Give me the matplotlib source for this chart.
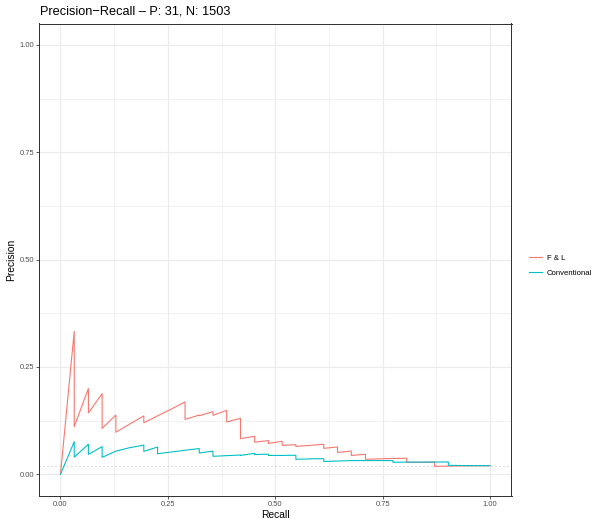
import matplotlib
matplotlib.use("Agg")
import matplotlib.pyplot as plt
import numpy as np

plt.rcParams['font.family'] = ['Liberation Sans', 'DejaVu Sans']

# PR curve vertices
fl_recall = [0, .032, .032, .065, .065, .097, .097, .129, .129, .161, .194, .194,
             .226, .258, .290, .290, .323, .323, .355, .355, .387, .387, .419, .419,
             .452, .452, .484, .484, .516, .516, .548, .548, .581, .613, .613, .645,
             .645, .677, .677, .710, .710, .742, .774, .806, .806, .839, .871, .871,
             .903, .935, .968, 1.0]
fl_prec = [0, .333, .111, .200, .143, .188, .107, .138, .098, .117, .136, .120,
           .136, .152, .1685, .128, .138, .1365, .146, .1375, .149, .122, .1305, .083,
           .0886, .075, .0785, .072, .077, .0676, .069, .065, .0675, .070, .0606, .0637,
           .051, .0543, .044, .0466, .035, .036, .037, .0375, .028, .028, .0285, .0186,
           .0192, .0196, .0199, .0202]

conv_recall = [0, .032, .032, .065, .065, .097, .097, .129, .161, .194, .194, .226,
               .226, .258, .290, .323, .323, .355, .355, .387, .419, .419, .452, .452,
               .484, .484, .516, .548, .548, .581, .613, .613, .645, .677, .710, .742,
               .774, .774, .806, .839, .871, .903, .903, .935, .968, 1.0]
conv_prec = [0, .076, .040, .070, .0466, .0645, .0396, .054, .062, .068, .0536, .0636,
             .048, .052, .056, .060, .0497, .054, .042, .0435, .045, .044, .049, .046,
             .047, .044, .044, .0445, .035, .036, .0365, .030, .031, .032, .032, .032,
             .032, .028, .0285, .0285, .0286, .0287, .021, .0205, .0203, .0202]

series_names = ['F & L', 'Conventional']
series_colors = ['#F8766D', '#00BFC4']
n_pos, n_neg = 31, 1503
baseline = n_pos / (n_pos + n_neg)

fig = plt.figure(figsize=(595 / 72, 520 / 72), dpi=72)
ax = fig.add_axes([39 / 595, 1 - 495.8 / 520, 472.5 / 595, 472.3 / 520])

ax.axhline(baseline, color='#BEBEBE', lw=1.0, ls=(0, (1, 3)), zorder=2)
ax.plot(fl_recall, fl_prec, color=series_colors[0], lw=1.1, label=series_names[0], zorder=3)
ax.plot(conv_recall, conv_prec, color=series_colors[1], lw=1.1, label=series_names[1], zorder=3)

ax.set_xlim(-0.05, 1.05)
ax.set_ylim(-0.05, 1.05)
ticks = [0, 0.25, 0.5, 0.75, 1.0]
ax.set_xticks(ticks)
ax.set_yticks(ticks)
ax.set_xticklabels(['0.00', '0.25', '0.50', '0.75', '1.00'])
ax.set_yticklabels(['0.00', '0.25', '0.50', '0.75', '1.00'])
ax.set_xticks([0.125, 0.375, 0.625, 0.875], minor=True)
ax.set_yticks([0.125, 0.375, 0.625, 0.875], minor=True)
ax.grid(True, which='major', color='#EBEBEB', lw=1.1, zorder=0)
ax.grid(True, which='minor', color='#EBEBEB', lw=0.6, zorder=0)
ax.set_axisbelow(True)
ax.tick_params(which='major', length=3, width=0.8, color='#333333',
               labelsize=7.5, labelcolor='#4D4D4D', pad=2)
ax.tick_params(which='minor', length=0)
for s in ax.spines.values():
    s.set_color('#333333')
    s.set_linewidth(1.0)

ax.set_xlabel('Recall', fontsize=10.3, labelpad=2)
ax.set_ylabel('Precision', fontsize=10.3, labelpad=3)
fig.text(40 / 595, 1 - 12 / 520, 'Precision\u2212Recall \u2013 P: 31, N: 1503',
         fontsize=12.7, ha='left', va='center')

leg = ax.legend(loc='center left', bbox_to_anchor=(1.022, 0.487), frameon=False,
                fontsize=7.8, handlelength=1.7, handletextpad=0.6, labelspacing=0.95,
                borderaxespad=0.5)

fig.savefig('out.png', dpi=72)
